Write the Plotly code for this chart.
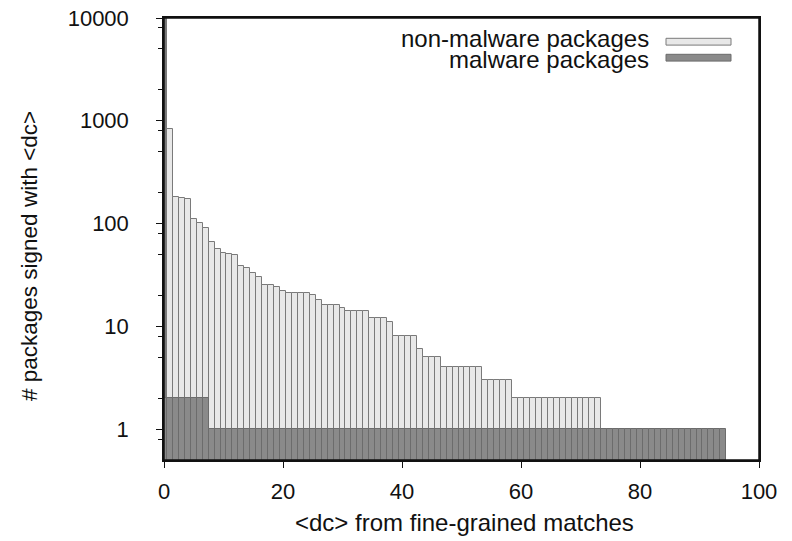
import math
import plotly.graph_objects as go

# ---------------- data ----------------
non_malware = [30000, 840, 181, 176, 174, 111, 102, 91, 66, 56,
               52, 51, 49, 39, 37, 33, 30, 25, 25, 24,
               22, 21, 21, 21, 21, 20, 18, 16, 16, 16,
               15, 14, 14, 14, 14, 12, 12, 12, 11, 8,
               8, 8, 8, 6, 5, 5, 5, 4, 4, 4,
               4, 4, 4, 4, 3, 3, 3, 3, 3, 2,
               2, 2, 2, 2, 2, 2, 2, 2, 2, 2,
               2, 2, 2, 2]
malware = [2] * 8 + [1] * 87
non_malware_x = list(range(len(non_malware)))
malware_x = list(range(len(malware)))

x_ticks = [0, 20, 40, 60, 80, 100]
y_ticks = [1, 10, 100, 1000, 10000]
y_tick_labels = ["1", "10", "100", "1000", "10000"]
y_minor = [0.8, 2, 5, 8, 20, 50, 80, 200, 500, 800, 2000, 5000, 8000]

series_names = ["non-malware packages", "malware packages"]
x_title = "&lt;dc&gt; from fine-grained matches"
y_title = "# packages signed with &lt;dc&gt;"

# ---------------- style ----------------
FONT = "Liberation Sans, Arial, sans-serif"
FS_TICK = 22
FS_TEXT = 24
FS_YT = 22.5
INK = "#111111"
LIGHT_FILL, LIGHT_LINE = "#e8e8e8", "#7a7a7a"
DARK_FILL, DARK_LINE = "#8a8a8a", "#6c6c6c"
# the half-width bar at the x=0 edge renders as a grey stripe in the original
light_colors = [LIGHT_LINE if i == 0 else LIGHT_FILL for i in range(len(non_malware))]

# the page body adds an 8px offset; figure sized to fit the window
OFF = 8
W, H = 792 - OFF, 541 - OFF
PL, PR, PT, PB = 164, 759, 18, 460          # plot area in page pixels
ML, MR, MT, MB = PL - OFF, W - (PR - OFF), PT - OFF, H - (PB - OFF)
PW, PH = PR - PL, PB - PT


def px(xp):
    return (xp - PL) / PW


def py(yp):
    return (PB - yp) / PH


fig = go.Figure()
fig.add_trace(go.Bar(x=non_malware_x, y=non_malware, width=1,
                     marker=dict(color=light_colors, line=dict(color=LIGHT_LINE, width=1)),
                     name=series_names[0], showlegend=False))
fig.add_trace(go.Bar(x=malware_x, y=malware, width=1,
                     marker=dict(color=DARK_FILL, line=dict(color=DARK_LINE, width=1)),
                     name=series_names[1], showlegend=False))

axis_common = dict(showline=True, linecolor=INK, linewidth=1.5, mirror=True,
                   showgrid=False, zeroline=False, ticks="outside", ticklen=6,
                   tickcolor=INK, tickwidth=1, automargin=False,
                   ticklabeloverflow="allow",
                   tickfont=dict(family=FONT, size=FS_TICK, color=INK))

fig.update_xaxes(range=[0, 100], tickmode="array", tickvals=x_ticks,
                 ticklabelstandoff=5, **axis_common)
fig.update_yaxes(type="log", range=[math.log10(0.5), 4], tickmode="array",
                 tickvals=y_ticks, ticktext=y_tick_labels, ticklabelstandoff=23,
                 minor=dict(tickmode="array", tickvals=y_minor, ticks="outside",
                            ticklen=4, tickcolor=INK, showgrid=False),
                 **axis_common)

# plot frame (top / right borders)
fig.add_shape(type="rect", xref="paper", yref="paper", x0=0, x1=1, y0=0, y1=1,
              line=dict(color=INK, width=1.5), fillcolor="rgba(0,0,0,0)", layer="above")

# manual legend: text to the left, swatch to the right
legend_rows = [(series_names[0], LIGHT_FILL, LIGHT_LINE, 41.7, 38.5),
               (series_names[1], DARK_FILL, DARK_LINE, 57.7, 59)]
for name, fill, line, yc, yt in legend_rows:
    fig.add_shape(type="rect", xref="paper", yref="paper",
                  x0=px(666), x1=px(731), y0=py(yc - 3.4), y1=py(yc + 3.4),
                  fillcolor=fill, line=dict(color=line, width=1))
    fig.add_annotation(text=name, xref="paper", yref="paper",
                       x=px(651), y=py(yt), xanchor="right", yanchor="middle",
                       showarrow=False, font=dict(family=FONT, size=FS_TEXT, color=INK))

fig.add_annotation(text=x_title, xref="paper", yref="paper", x=px(464), y=py(522),
                   xanchor="center", yanchor="middle", showarrow=False,
                   font=dict(family=FONT, size=FS_TEXT, color=INK))
fig.add_annotation(text=y_title, xref="paper", yref="paper", x=px(29), y=py(256),
                   xanchor="center", yanchor="middle", textangle=-90, showarrow=False,
                   font=dict(family=FONT, size=FS_YT, color=INK))

fig.update_layout(width=W, height=H, barmode="overlay", bargap=0,
                  margin=dict(l=ML, r=MR, t=MT, b=MB, autoexpand=False),
                  plot_bgcolor="white", paper_bgcolor="white",
                  font=dict(family=FONT, size=FS_TICK, color=INK))

fig.write_html("out.html")
